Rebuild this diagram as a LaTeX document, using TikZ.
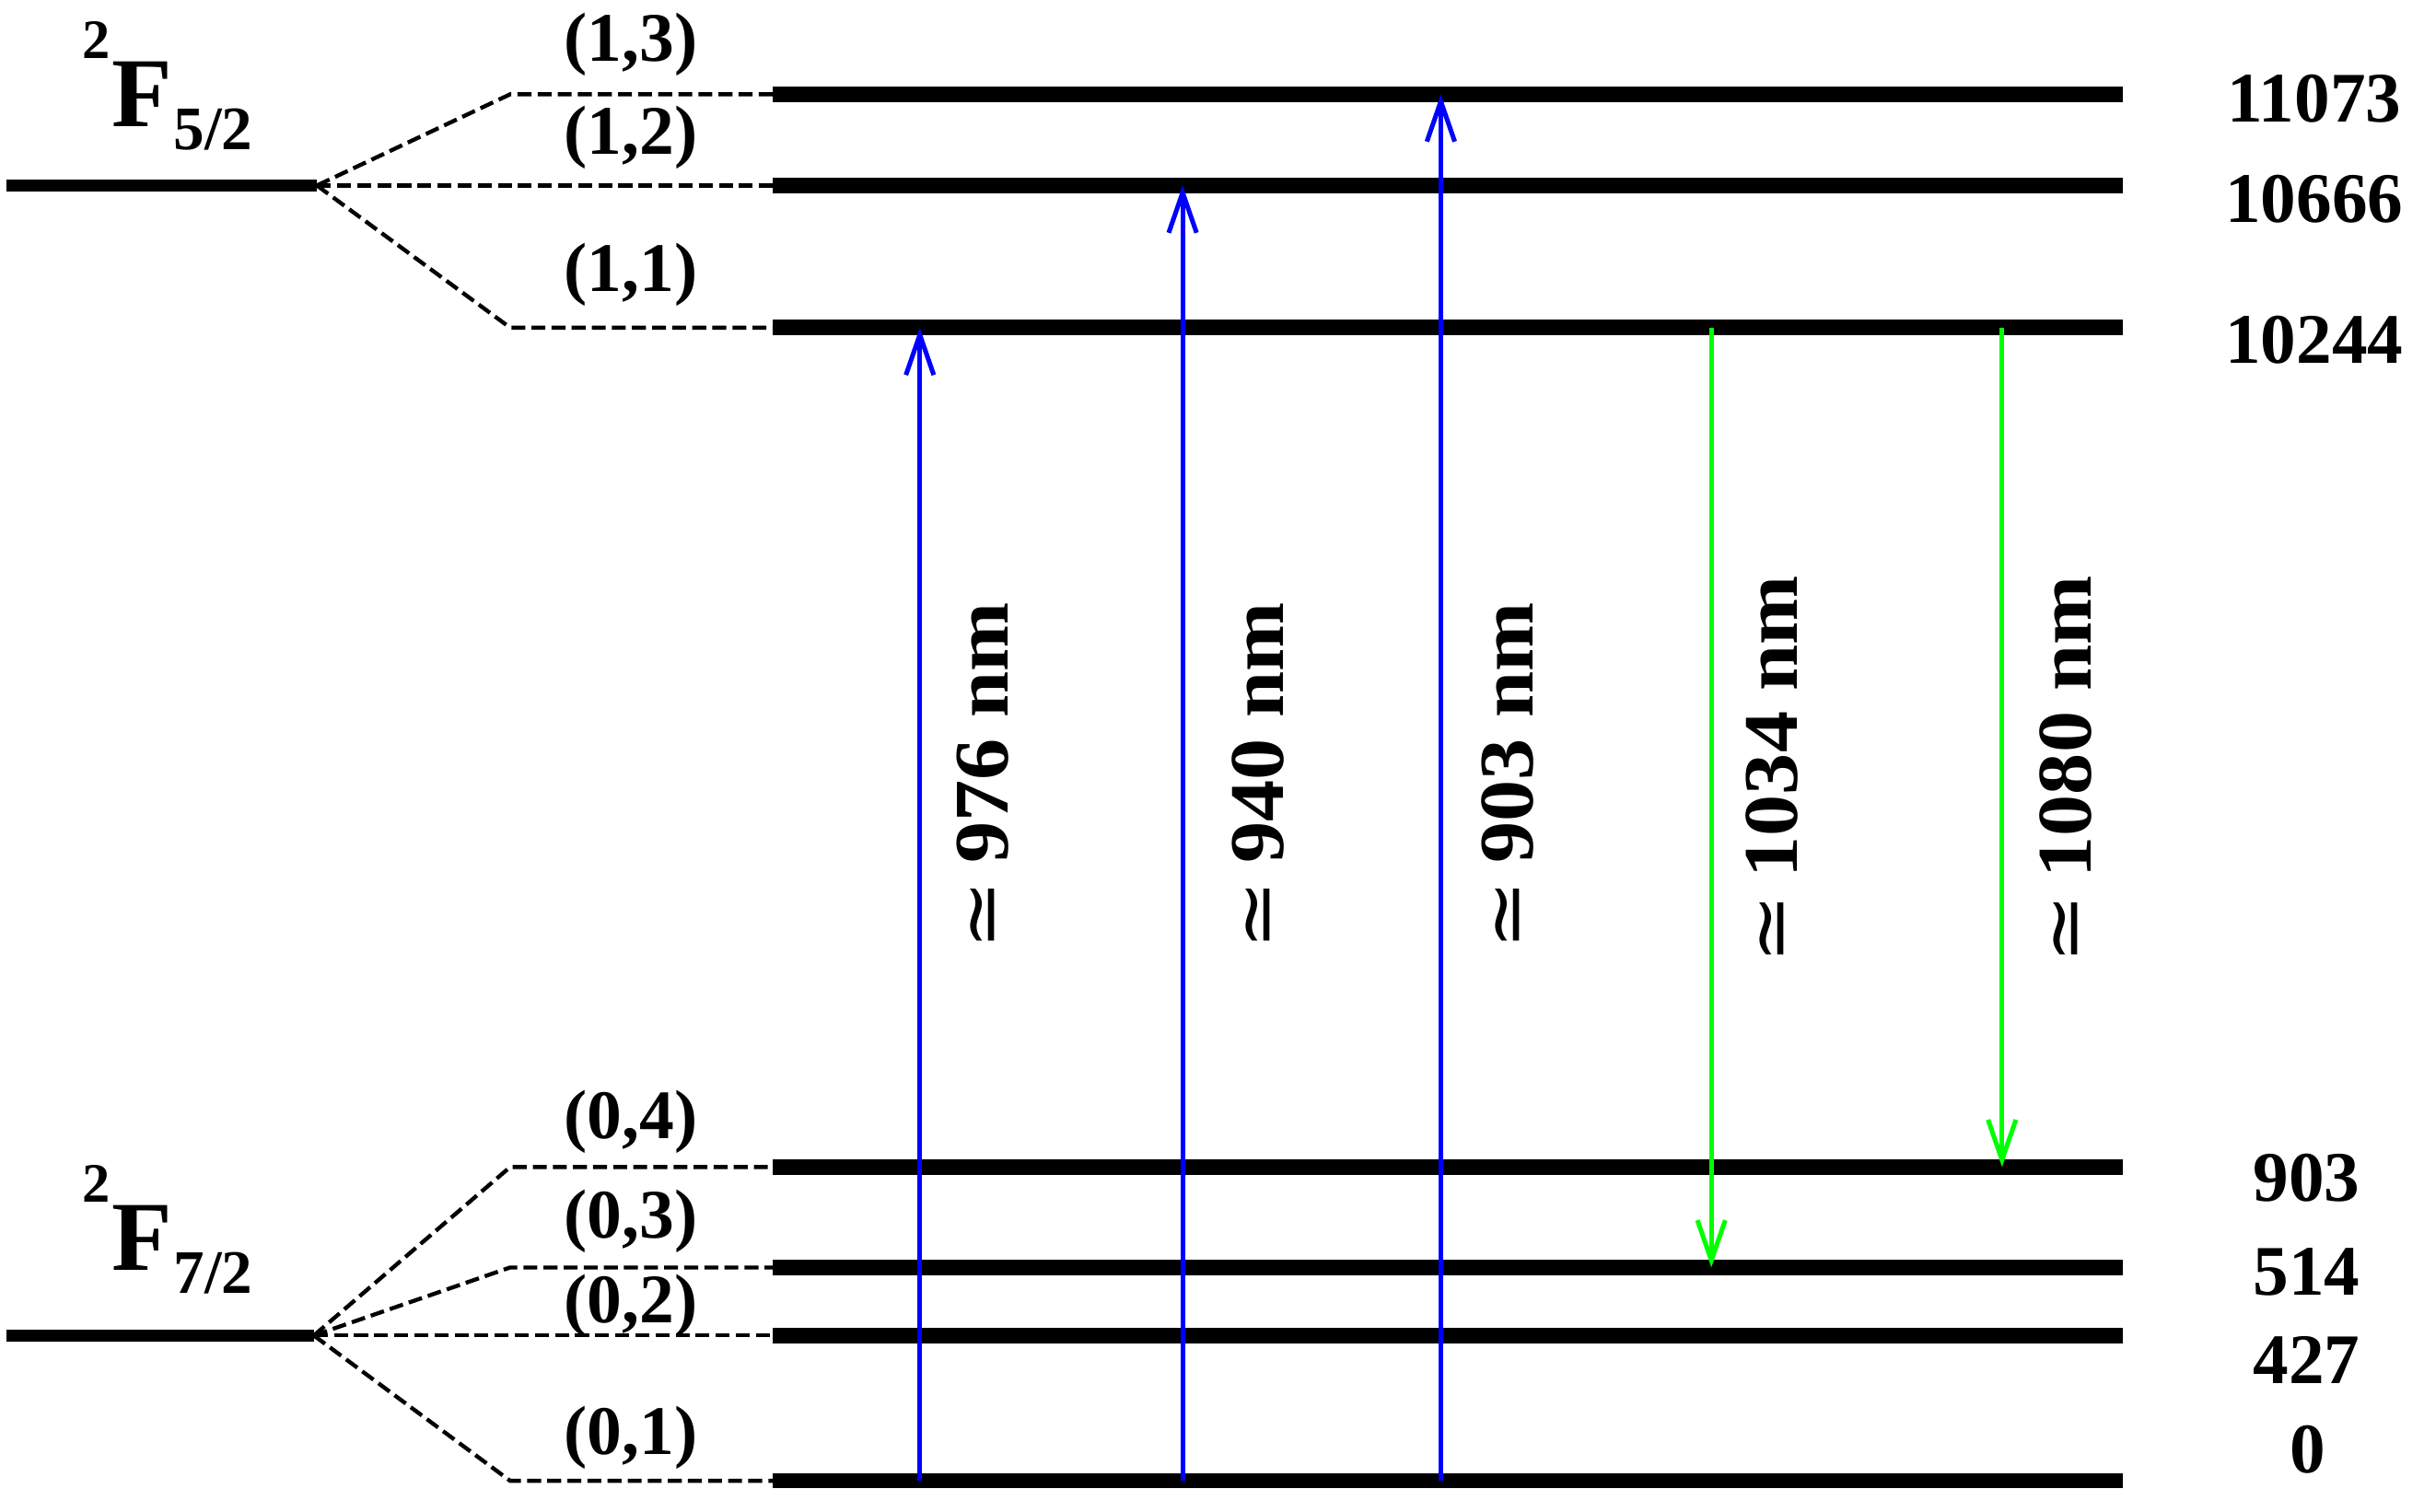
\documentclass[tikz,border=0pt]{standalone}
\usepackage{fontspec}
\setmainfont{Liberation Serif}
\newfontfamily\symf{DejaVu Serif}
\usetikzlibrary{arrows.meta}
\newcommand{\wltext}[1]{\scalebox{1.075}[1]{{\symf\mdseries ≃}\kern 10pt #1}}
\begin{document}
\begin{tikzpicture}[x=1pt,y=-1pt,
  level/.style={line width=10pt},
  term/.style={line width=8pt},
  split/.style={line width=2.6pt, dash pattern=on 9pt off 4pt},
  pump/.style={draw={rgb,255:red,0;green,0;blue,255}, line width=3pt,
    -{Straight Barb[length=26pt,width=18pt,line width=3pt]}},
  emit/.style={draw={rgb,255:red,0;green,255;blue,0}, line width=3pt,
    -{Straight Barb[length=26pt,width=18pt,line width=3pt]}},
  lab/.style={inner sep=0pt, font=\fontsize{45}{48}\selectfont\bfseries},
  en/.style={inner sep=0pt, font=\fontsize{46}{48}\selectfont\bfseries},
  wl/.style={inner sep=0pt, rotate=90, font=\fontsize{50}{52}\selectfont\bfseries}]
\useasboundingbox (0,0) rectangle (1568,978);
% split points
\coordinate (u0) at (205,120);
\coordinate (l0) at (203,864);
% kinks
\coordinate (ka) at (330,61);
\coordinate (kc) at (330,212);
\coordinate (kd) at (330,755);
\coordinate (ke) at (330,820);
\coordinate (kg) at (330,958);
% right levels
\coordinate (a1) at (500,61);  \coordinate (a2) at (1373,61);
\coordinate (b1) at (500,120); \coordinate (b2) at (1373,120);
\coordinate (c1) at (500,212); \coordinate (c2) at (1373,212);
\coordinate (d1) at (500,755); \coordinate (d2) at (1373,755);
\coordinate (e1) at (500,820); \coordinate (e2) at (1373,820);
\coordinate (f1) at (500,864); \coordinate (f2) at (1373,864);
\coordinate (g1) at (500,958); \coordinate (g2) at (1373,958);
\foreach \n in {a,b,c,d,e,f,g} {\draw[level] (\n1) -- (\n2);}
% term lines
\coordinate (u1) at (4,120);
\coordinate (l1) at (4,864);
\draw[term] (u1) -- (u0);
\draw[term] (l1) -- (l0);
% splitting lines
\draw[split] (u0) -- (ka) -- (a1);
\draw[split] (u0) -- (b1);
\draw[split] (u0) -- (kc) -- (c1);
\draw[split] (l0) -- (kd) -- (d1);
\draw[split] (l0) -- (ke) -- (e1);
\draw[split] (l0) -- (f1);
\draw[split] (l0) -- (kg) -- (g1);
% term symbols
\node[anchor=base west, inner sep=0pt, font=\bfseries] (F52) at (53,82)
  {\fontsize{36}{38}\selectfont\raisebox{44pt}{2}\kern1pt\fontsize{64}{66}\selectfont F\kern1pt\fontsize{40}{42}\selectfont\raisebox{-15pt}{5/2}};
\node[anchor=base west, inner sep=0pt, font=\bfseries] (F72) at (53,822)
  {\fontsize{36}{38}\selectfont\raisebox{44pt}{2}\kern1pt\fontsize{64}{66}\selectfont F\kern1pt\fontsize{40}{42}\selectfont\raisebox{-15pt}{7/2}};
% sublevel labels
\node[lab] (s13) at (408,29) {(1,3)};
\node[lab] (s12) at (408,89) {(1,2)};
\node[lab] (s11) at (408,178) {(1,1)};
\node[lab] (s04) at (408,726) {(0,4)};
\node[lab] (s03) at (408,790) {(0,3)};
\node[lab] (s02) at (408,845) {(0,2)};
\node[lab] (s01) at (408,930) {(0,1)};
% energies
\node[en] (e11073) at (1497,64) {11073};
\node[en] (e10666) at (1497,129) {10666};
\node[en] (e10244) at (1497,220) {10244};
\node[en] (e903) at (1492,762) {903};
\node[en] (e514) at (1492,823) {514};
\node[en] (e427) at (1492,880) {427};
\node[en] (e0) at (1493,938) {0};
% arrow columns
\coordinate (x976) at (595,0);
\coordinate (x940) at (765,0);
\coordinate (x903) at (932,0);
\coordinate (x1034) at (1107,0);
\coordinate (x1080) at (1295,0);
\draw[pump] (x976 |- g1) -- (x976 |- c1);
\draw[pump] (x940 |- g1) -- (x940 |- b1);
\draw[pump] (x903 |- g1) -- (x903 |- a1);
\draw[emit] (x1034 |- c1) -- (x1034 |- e1);
\draw[emit] (x1080 |- c1) -- (x1080 |- d1);
% wavelength labels
\node[wl] (w976) at (636,502) {\wltext{976 nm}};
\node[wl] (w940) at (814,502) {\wltext{940 nm}};
\node[wl] (w903) at (975,502) {\wltext{903 nm}};
\node[wl] (w1034) at (1146,498) {\wltext{1034 nm}};
\node[wl] (w1080) at (1336,498) {\wltext{1080 nm}};
\end{tikzpicture}
\end{document}
